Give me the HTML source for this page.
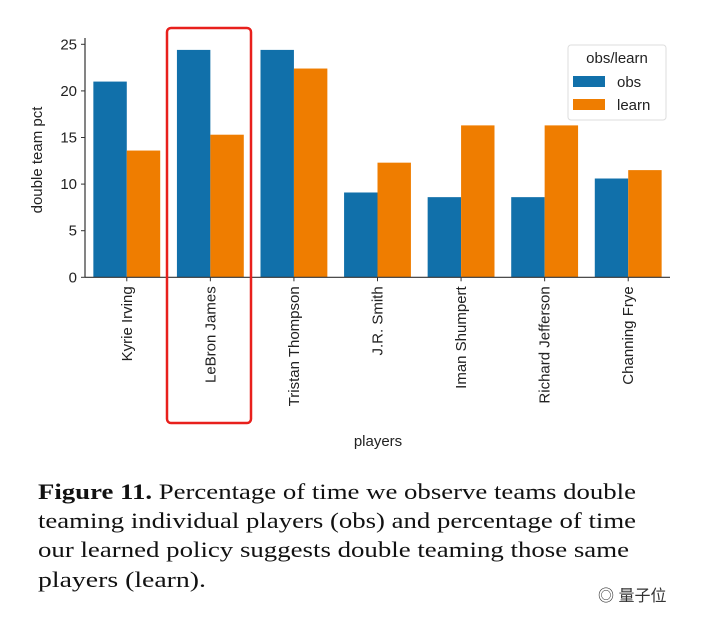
<!DOCTYPE html>
<html><head><meta charset="utf-8"><style>
body{margin:0;background:#fff;width:701px;height:623px;overflow:hidden;position:relative;font-family:"Liberation Sans","DejaVu Sans",sans-serif}
#wm{position:absolute;left:598px;top:582px;font-family:"Liberation Sans","Noto Sans CJK SC",sans-serif;font-size:16px;color:#333}
</style></head><body>
<svg id="chart" width="701" height="470" style="position:absolute;left:0;top:0" xmlns="http://www.w3.org/2000/svg"></svg>
<svg width="701" height="130" style="position:absolute;left:0;top:470px" xmlns="http://www.w3.org/2000/svg" font-family="Liberation Serif, DejaVu Serif, serif" font-size="22" fill="#111">
<text x="38" y="29" textLength="598" lengthAdjust="spacingAndGlyphs"><tspan font-weight="bold">Figure 11.</tspan> Percentage of time we observe teams double</text>
<text x="38" y="58" textLength="598" lengthAdjust="spacingAndGlyphs">teaming individual players (obs) and percentage of time</text>
<text x="38" y="87" textLength="591" lengthAdjust="spacingAndGlyphs">our learned policy suggests double teaming those same</text>
<text x="38" y="117" textLength="168" lengthAdjust="spacingAndGlyphs">players (learn).</text>
</svg>
<div id="wm">◎ 量子位</div>
<script>
const players=["Kyrie Irving","LeBron James","Tristan Thompson","J.R. Smith","Iman Shumpert","Richard Jefferson","Channing Frye"];
const obs=[21.0,24.4,24.4,9.1,8.6,8.6,10.6];
const learn=[13.6,15.3,22.4,12.3,16.3,16.3,11.5];
const yTicks=[0,5,10,15,20,25];
const NS="http://www.w3.org/2000/svg";
const svg=document.getElementById('chart');
const X0=85,X1=670,Y0=277.3,Ytop=44.3;
const y=v=>Y0-(Y0-Ytop)*v/25;
const gw=(X1-X0)/players.length;
const gx=i=>X0+gw*i;
function mk(t,a,txt){const e=document.createElementNS(NS,t);for(const k in a)e.setAttribute(k,a[k]);if(txt!=null)e.textContent=txt;svg.appendChild(e);return e;}
const bw=gw*0.4;
players.forEach((p,i)=>{
  const c=gx(i)+gw/2;
  let b=mk('rect',{x:c-bw,y:y(obs[i]),width:bw,height:Y0-y(obs[i]),fill:'#1170aa'});
  
  
  b=mk('rect',{x:c,y:y(learn[i]),width:bw,height:Y0-y(learn[i]),fill:'#ef7d00'});
  
  
  mk('line',{x1:c,x2:c,y1:Y0,y2:Y0+4,stroke:'#333'});
  const t=mk('text',{x:0,y:0,transform:`translate(${c+5},${Y0+9}) rotate(-90)`,'text-anchor':'end','font-size':15,fill:'#222'},p);
  
  
});
yTicks.forEach(v=>{
  mk('line',{x1:X0-4,x2:X0,y1:y(v),y2:y(v),stroke:'#333'});
  const t=mk('text',{x:X0-8,y:y(v)+5,'text-anchor':'end','font-size':15,fill:'#222'},v);
  
  
});
mk('line',{x1:X0,x2:X0,y1:38,y2:Y0,stroke:'#333','stroke-width':1.2});
mk('line',{x1:X0,x2:X1,y1:Y0,y2:Y0,stroke:'#333','stroke-width':1.2});
let t=mk('text',{x:0,y:0,transform:'translate(42,160) rotate(-90)','text-anchor':'middle','font-size':15,fill:'#222'},'double team pct');

t=mk('text',{x:378,y:446,'text-anchor':'middle','font-size':15,fill:'#222'},'players');

const lg=mk('rect',{x:568,y:45,width:98,height:75,rx:3,fill:'#fff',stroke:'#ddd'});

mk('text',{x:617,y:63,'text-anchor':'middle','font-size':15,fill:'#222'},'obs/learn');
mk('rect',{x:573,y:76,width:32,height:11,fill:'#1170aa'});
mk('text',{x:617,y:87,'font-size':15,fill:'#222'},'obs');
mk('rect',{x:573,y:99,width:32,height:11,fill:'#ef7d00'});
mk('text',{x:617,y:110,'font-size':15,fill:'#222'},'learn');
const hb=mk('rect',{x:167,y:28,width:84,height:395,rx:4,fill:'none',stroke:'#e8201c','stroke-width':2.5});

</script>
</body></html>
